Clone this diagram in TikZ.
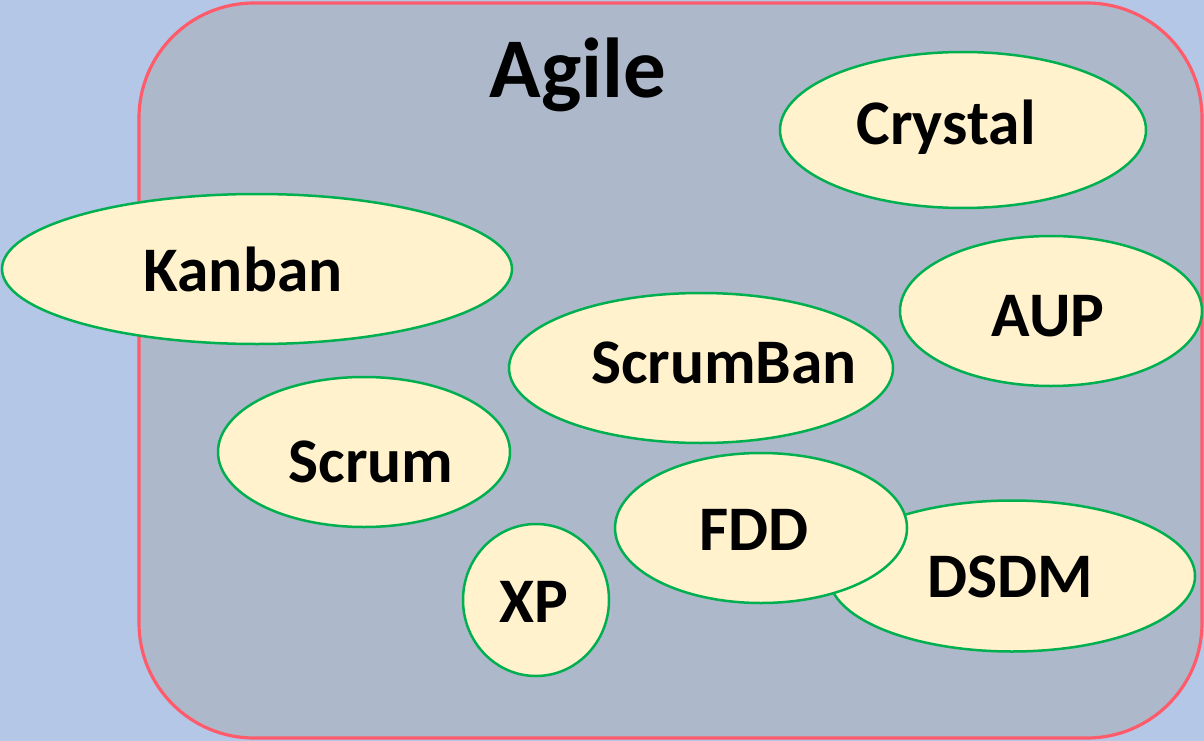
\documentclass[tikz,border=0pt]{standalone}
\usepackage{fontspec}
\setmainfont{Carlito}
\usetikzlibrary{shapes.geometric}
\definecolor{bgblue}{HTML}{B4C7E7}
\definecolor{panelgray}{HTML}{ADB9CA}
\definecolor{panelrim}{HTML}{FF5B6A}
\definecolor{methodfill}{HTML}{FFF2CC}
\definecolor{methodrim}{HTML}{00B050}
\tikzset{
  method/.style={ellipse, draw=methodrim, fill=methodfill, line width=2.5pt, inner sep=0pt},
  methodlabel/.style={anchor=base, inner sep=0pt, font=\fontsize{63.5}{63.5}\selectfont\bfseries},
}
\begin{document}
\begin{tikzpicture}[x=1pt, y=-1pt]
  % canvas
  \fill[bgblue] (0,0) rectangle (1204,741);
  \useasboundingbox (0,0) rectangle (1204,741);
  % Agile panel
  \draw[panelrim, fill=panelgray, line width=3.2pt, rounded corners=115pt]
    (139,3) rectangle (1202,738);
  \node[anchor=base, inner sep=0pt, font=\fontsize{85}{85}\selectfont\bfseries] (agile) at (578,98) {Agile};
  % methods
  \node[method, minimum width=366pt, minimum height=156pt] (crystal) at (963,130) {};
  \node[method, minimum width=510pt, minimum height=150pt] (kanban) at (257,269) {};
  \node[method, minimum width=302pt, minimum height=150pt] (aup) at (1051,311) {};
  \node[method, minimum width=384pt, minimum height=150pt] (scrumban) at (701,368) {};
  \node[method, minimum width=292pt, minimum height=150pt] (scrum) at (364,452) {};
  \node[method, minimum width=366pt, minimum height=151pt] (dsdm) at (1012,576) {};
  \node[method, minimum width=292pt, minimum height=150pt] (fdd) at (761,528) {};
  \node[method, minimum width=146pt, minimum height=152pt] (xp) at (536,600) {};
  % labels
  \node[methodlabel] (crystalT) at (946,144) {Crystal};
  \node[methodlabel] (kanbanT) at (243,291) {Kanban};
  \node[methodlabel] (aupT) at (1048,336) {AUP};
  \node[methodlabel] (scrumbanT) at (724,383) {ScrumBan};
  \node[methodlabel] (scrumT) at (371,482) {Scrum};
  \node[methodlabel] (fddT) at (754,550) {FDD};
  \node[methodlabel] (dsdmT) at (1010,597) {DSDM};
  \node[methodlabel] (xpT) at (534,622) {XP};
\end{tikzpicture}
\end{document}
